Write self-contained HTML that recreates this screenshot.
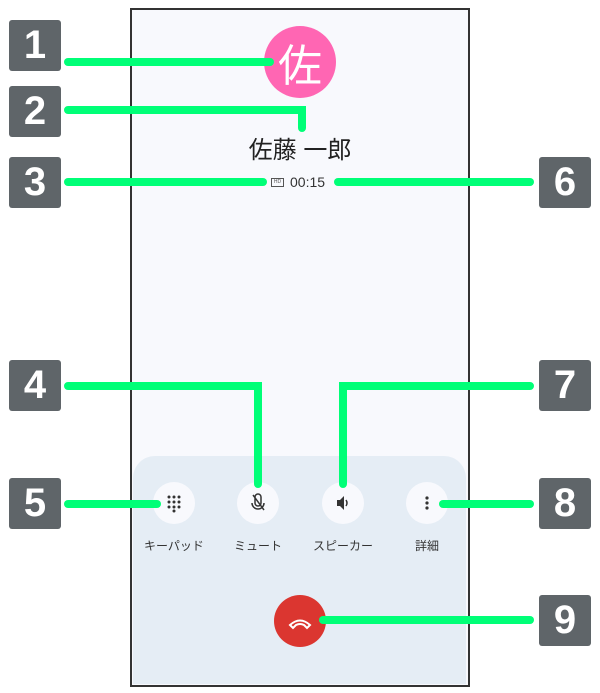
<!DOCTYPE html>
<html><head><meta charset="utf-8"><style>
body{margin:0;width:600px;height:693px;background:#fff;position:relative;overflow:hidden;font-family:"Liberation Sans","Noto Sans CJK JP",sans-serif}
.b{position:absolute;width:52px;height:51px;background:#5f6569;border-radius:3px;color:#fff;font:bold 40px/51px "Liberation Sans",sans-serif;text-align:center}
.t{position:absolute;font-size:12px;color:#333;text-align:center;width:80px}
.c{position:absolute;width:42px;height:42px;border-radius:50%;background:#f8f9fd}
</style></head><body>
<div style="position:absolute;left:130px;top:8px;width:336px;height:675px;border:2px solid #333;background:#f8f9fd"></div>
<div style="position:absolute;left:133px;top:456px;width:333px;height:228px;background:#e5edf5;border-radius:22px 22px 0 0"></div>
<div style="position:absolute;left:264px;top:26px;width:72px;height:72px;border-radius:50%;background:#ff66b3;color:#fff;font:44px/72px 'Noto Sans CJK JP',sans-serif;text-align:center">佐</div>
<div style="position:absolute;left:200px;top:130px;width:200px;text-align:center;font-size:24px;color:#222">佐藤 一郎</div>
<div style="position:absolute;left:271px;top:178px;width:11px;height:7px;border:1px solid #555;font-size:5px;line-height:7px;text-align:center;color:#555">HD</div>
<div style="position:absolute;left:290px;top:174px;font-size:14px;color:#333">00:15</div>
<div class="c" style="left:153px;top:482px"></div><div class="c" style="left:237px;top:482px"></div><div class="c" style="left:322px;top:482px"></div><div class="c" style="left:406px;top:482px"></div>
<div class="t" style="left:134px;top:537px">キーパッド</div><div class="t" style="left:218px;top:537px">ミュート</div><div class="t" style="left:303px;top:537px">スピーカー</div><div class="t" style="left:387px;top:537px">詳細</div>
<div style="position:absolute;left:274px;top:595px;width:52px;height:52px;border-radius:50%;background:#db3630"></div>
<svg width="600" height="693" style="position:absolute;left:0;top:0">
<g fill="#333"><circle cx="169" cy="497" r="1.5"/><circle cx="174" cy="497" r="1.5"/><circle cx="179" cy="497" r="1.5"/><circle cx="169" cy="502" r="1.5"/><circle cx="174" cy="502" r="1.5"/><circle cx="179" cy="502" r="1.5"/><circle cx="169" cy="507" r="1.5"/><circle cx="174" cy="507" r="1.5"/><circle cx="179" cy="507" r="1.5"/><circle cx="174" cy="511" r="1.5"/>
<circle cx="427" cy="498" r="1.6"/><circle cx="427" cy="503" r="1.6"/><circle cx="427" cy="508" r="1.6"/>
<path d="M337 500h3l4-4v14l-4-4h-3z"/></g>
<path d="M346 500q2 3 0 6M255 497v6a3 3 0 0 0 6 0v-6a3 3 0 0 0-6 0M252 503a6 6 0 0 0 12 0M253 495l11 15" stroke="#333" stroke-width="1.5" fill="none"/>
<path d="M290 625q10-9 20 0l-3 3-3-3q-4-2-8 0l-3 3z" stroke="#fff" stroke-width="2" fill="none"/>
<g stroke="#00ff77" stroke-width="8" stroke-linecap="round" fill="none">
<path d="M68 62H270"/><path d="M68 110H302V128"/><path d="M68 182H263"/><path d="M338 182H530"/>
<path d="M68 386H258V484"/><path d="M530 386H343V484"/><path d="M68 504H157"/><path d="M443 504H530"/><path d="M323 620H530"/>
</g></svg>
<div class="b" style="left:9px;top:20px">1</div><div class="b" style="left:9px;top:86px">2</div><div class="b" style="left:9px;top:157px">3</div>
<div class="b" style="left:9px;top:360px">4</div><div class="b" style="left:9px;top:478px">5</div>
<div class="b" style="left:539px;top:157px">6</div><div class="b" style="left:539px;top:360px">7</div><div class="b" style="left:539px;top:478px">8</div><div class="b" style="left:539px;top:595px">9</div>
</body></html>
